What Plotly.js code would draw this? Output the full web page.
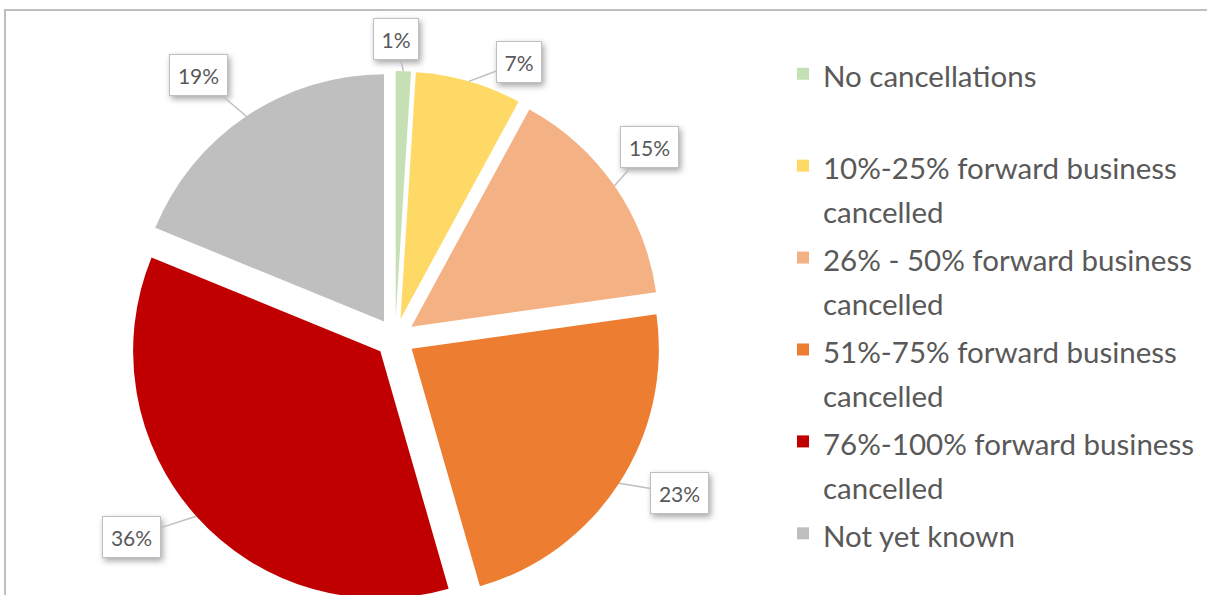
<!DOCTYPE html>
<html>
<head>
<meta charset="utf-8">
<script src="https://cdn.plot.ly/plotly-3.0.1.min.js"></script>
<style>
  html, body { margin: 0; padding: 0; overflow: hidden; background: #ffffff; width: 1207px; height: 595px; }
  #frame { position: absolute; left: 4px; top: 9px; width: 1202px; height: 620px;
           border-top: 2px solid #bfbfbf; border-left: 2px solid #bfbfbf; pointer-events: none; z-index: 5; }
  #chart { position: absolute; left: 0; top: 0; width: 1207px; height: 620px; }
  .annotation rect.bg { filter: drop-shadow(2px 3px 3px rgba(0,0,0,0.35)); }
</style>
</head>
<body>
<div id="chart"></div>
<div id="frame"></div>
<script>
// ---- data ----
var categories = [
  'No cancellations',
  '10%-25% forward business<br>cancelled',
  '26% - 50% forward business<br>cancelled',
  '51%-75% forward business<br>cancelled',
  '76%-100% forward business<br>cancelled',
  'Not yet known'
];
var values = [1, 7, 15, 23, 36, 19];
var valueLabels = ['1%', '7%', '15%', '23%', '36%', '19%'];
var colors = ['#c5e0b4', '#ffd966', '#f4b183', '#ed7d31', '#c00000', '#bfbfbf'];

// ---- style / layout constants ----
var W = 1207, H = 620;
var M = {l: 0, r: 0, t: 71, b: 15};
var PULL = 0.08;
var legendFontPx = 29.5;
// callout box offsets (px) from the slice edge point
var calloutOffsets = [[-7.5, -32], [50, -19], [35, -39], [60.5, 10], [-65, 21], [-48, -41]];

var displayLabels = categories.map(function (c, i) {
  var lines = c.split('<br>');
  var s = lines.map(function (l) { return '<span style="font-size:' + legendFontPx + 'px">' + l + '</span>'; }).join('<br>');
  if (lines.length === 1 && i < categories.length - 1) s += '<br>\u00a0';
  return s;
});

var trace = {
  type: 'pie',
  labels: displayLabels,
  values: values,
  sort: false,
  direction: 'clockwise',
  rotation: 0,
  pull: values.map(function () { return PULL; }),
  marker: {colors: colors, line: {width: 0}},
  textinfo: 'none',
  hoverinfo: 'skip',
  domain: {x: [0.0973, 0.5573], y: [0, 1]}
};

var layout = {
  width: W, height: H,
  margin: {l: M.l, r: M.r, t: M.t, b: M.b, autoexpand: false},
  paper_bgcolor: 'rgba(0,0,0,0)',
  plot_bgcolor: 'rgba(0,0,0,0)',
  showlegend: true,
  legend: {
    x: 783 / W, xanchor: 'left',
    y: 1 + (M.t - 45) / (H - M.t - M.b), yanchor: 'top',
    font: {family: 'Lato, sans-serif', size: 34.2, color: '#595959'},
    valign: 'top',
    maxheight: 700,
    bgcolor: 'rgba(0,0,0,0)',
    traceorder: 'normal'
  },
  font: {family: 'Lato, sans-serif', color: '#595959'}
};

var gd = document.getElementById('chart');
Plotly.newPlot(gd, [trace], layout, {staticPlot: true}).then(function () {
  var cd0 = gd.calcdata[0][0];
  var cx = cd0.cx, cy = cd0.cy, r = cd0.r;
  var pw = W - M.l - M.r, ph = H - M.t - M.b;
  var total = values.reduce(function (a, b) { return a + b; }, 0);
  var cum = 0;
  var anns = values.map(function (v, i) {
    var th = 2 * Math.PI * (cum + v / 2) / total;
    cum += v;
    var rr = r * (1 + PULL);
    var px = cx + rr * Math.sin(th);
    var py = cy - rr * Math.cos(th);
    var twoDigit = valueLabels[i].length > 2;
    return {
      xref: 'paper', yref: 'paper',
      x: (px - M.l) / pw, y: 1 - (py - M.t) / ph,
      text: valueLabels[i],
      showarrow: true, arrowhead: 0, arrowwidth: 1.5, arrowcolor: '#bfbfbf', standoff: 0,
      ax: calloutOffsets[i][0], ay: calloutOffsets[i][1],
      font: {family: 'Lato, sans-serif', size: 21, color: '#595959'},
      bgcolor: '#ffffff', bordercolor: '#bfbfbf', borderwidth: 1, borderpad: 5,
      width: twoDigit ? 47 : 34, height: 30, align: 'center'
    };
  });
  return Plotly.relayout(gd, {annotations: anns});
});
</script>
</body>
</html>
